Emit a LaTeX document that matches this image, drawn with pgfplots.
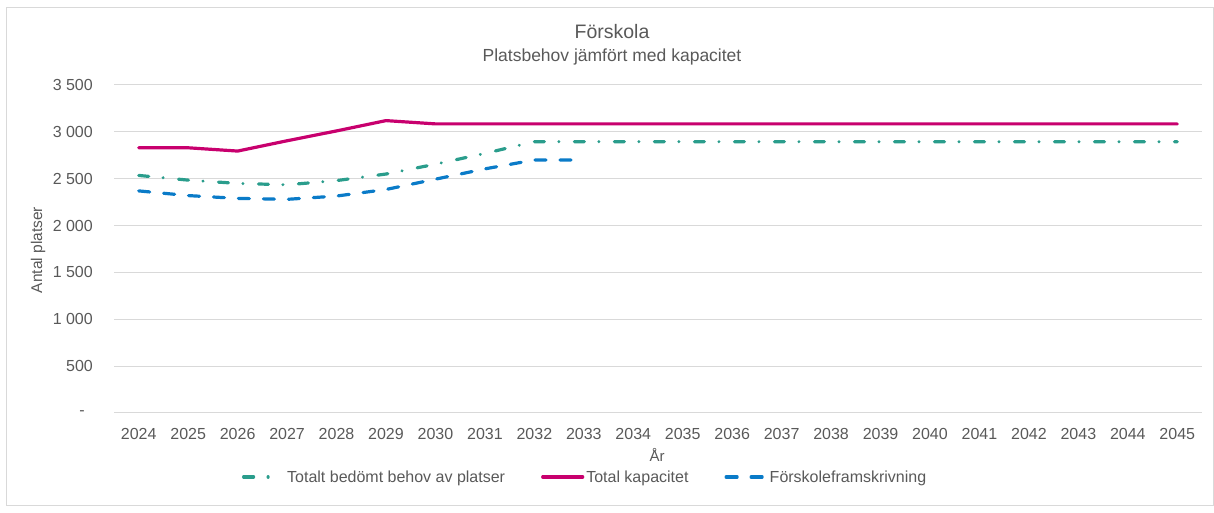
\documentclass[border=0pt]{standalone}
\usepackage{fontspec}
\setmainfont{Liberation Sans}
\usepackage{pgfplots}
\pgfplotsset{compat=1.18}
\definecolor{txt}{HTML}{595959}
\definecolor{gridc}{HTML}{D9D9D9}
\definecolor{cred}{HTML}{C8006E}
\definecolor{cteal}{HTML}{2A9D8C}
\definecolor{cblue}{HTML}{0A7BC8}

\begin{document}
\begin{tikzpicture}
\path[use as bounding box] (0bp,0bp) rectangle (1214bp,513bp);
\draw[gridc, line width=1bp] (6.5bp,7bp) rectangle (1213.5bp,505bp);
\node[anchor=base, text=txt, font=\fontsize{19.5bp}{23bp}\selectfont] at (612bp,474bp) {Förskola};
\node[anchor=base, text=txt, font=\fontsize{17.5bp}{21bp}\selectfont] at (612bp,451bp) {Platsbehov jämfört med kapacitet};
\node[anchor=center, text=txt, font=\fontsize{15bp}{18bp}\selectfont] at (657bp,58bp) {År};
\node[anchor=center, rotate=90, text=txt, font=\fontsize{15.5bp}{18bp}\selectfont] at (38bp,263bp) {Antal platser};
\begin{axis}[
  at={(114bp,100bp)}, anchor=south west, scale only axis,
  width=1088bp, height=328bp,
  xmin=2023.5, xmax=2045.5, ymin=0, ymax=3500,
  xtick={2024,2025,...,2045},
  xticklabels={2024,2025,2026,2027,2028,2029,2030,2031,2032,2033,2034,2035,2036,2037,2038,2039,2040,2041,2042,2043,2044,2045},
  ytick={0,500,1000,1500,2000,2500,3000,3500},
  yticklabels={{-\kern8bp},500,1 000,1 500,2 000,2 500,3 000,3 500},
  axis line style={draw=none},
  major tick length=0pt,
  ymajorgrids,
  grid style={gridc, line width=1bp},
  tick label style={font=\fontsize{16bp}{19bp}\selectfont, text=txt, inner sep=0pt},
  xticklabel style={anchor=north, yshift=-14.7bp},
  yticklabel style={anchor=east, xshift=-21bp},
  clip=false,
  legend columns=3,
  legend style={at={(0.433,-0.195)}, anchor=center, draw=none, fill=none,
    font=\fontsize{16bp}{19bp}\selectfont, text=txt,
    /tikz/every even column/.append style={column sep=34bp}},
  legend image code/.code={\draw[#1] (0bp,0bp) -- (40bp,0bp);},
]
\addplot[cteal, line width=3.2bp, line cap=round, dash pattern=on 10bp off 14.5bp on 0.01bp off 15.5bp] coordinates {
(2024,2535) (2025,2485) (2026,2450) (2027,2435) (2028,2480) (2029,2550) (2030,2655) (2031,2770) (2032,2895)
(2033,2895) (2034,2895) (2035,2895) (2036,2895) (2037,2895) (2038,2895) (2039,2895) (2040,2895)
(2041,2895) (2042,2895) (2043,2895) (2044,2895) (2045,2895)};
\addlegendentry{Totalt bedömt behov av platser}
\addplot[cred, line width=3.2bp, line join=round, line cap=round] coordinates {
(2024,2830) (2025,2830) (2026,2795) (2027,2905) (2028,3010) (2029,3120) (2030,3085) (2031,3085)
(2032,3085) (2033,3085) (2034,3085) (2035,3085) (2036,3085) (2037,3085) (2038,3085) (2039,3085)
(2040,3085) (2041,3085) (2042,3085) (2043,3085) (2044,3085) (2045,3085)};
\addlegendentry{Total kapacitet}
\addplot[cblue, line width=3.2bp, line cap=round, dash pattern=on 11bp off 14bp] coordinates {
(2024,2370) (2025,2320) (2026,2290) (2027,2280) (2028,2315) (2029,2385) (2030,2495) (2031,2605) (2032,2700) (2033,2700)};
\addlegendentry{Förskoleframskrivning}
\end{axis}
\end{tikzpicture}
\end{document}
